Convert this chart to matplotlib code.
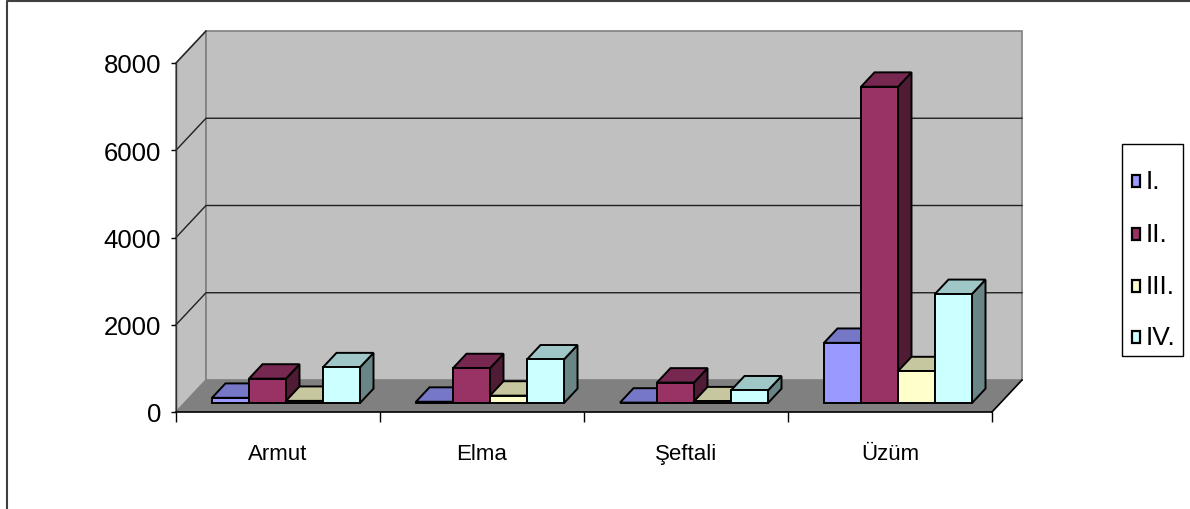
import matplotlib
matplotlib.use("Agg")
import matplotlib.pyplot as plt
from matplotlib.patches import Polygon, Rectangle
from matplotlib.lines import Line2D
import numpy as np

plt.rcParams['font.family'] = ['Liberation Sans Narrow', 'Liberation Sans', 'DejaVu Sans']

# ---- data ----
categories = ["Armut", "Elma", "Şeftali", "Üzüm"]
series_names = ["I.", "II.", "III.", "IV."]
s_I = [120, 30, 10, 1380]
s_II = [560, 800, 470, 7250]
s_III = [50, 170, 40, 730]
s_IV = [820, 1000, 290, 2500]
yticks = [0, 2000, 4000, 6000, 8000]

series = [s_I, s_II, s_III, s_IV]
front_colors = ["#9999FF", "#993366", "#FFFFCC", "#CCFFFF"]

W, H = 1190, 510
fig = plt.figure(figsize=(W / 100, H / 100), dpi=100)

# front plane of the 3D box in pixels
x_left, x_right, y_zero, y_top = 176, 992, 413, 64
ax = fig.add_axes([x_left / W, (H - y_zero) / H, (x_right - x_left) / W, (y_zero - y_top) / H])
ax.set_xlim(0, 4)
ax.set_ylim(0, 8000)
ax.patch.set_visible(False)

px_x = (x_right - x_left) / 4.0
px_y = (y_zero - y_top) / 8000.0
DX = 30 / px_x          # depth offset (x, data units)
DY = 32 / px_y          # depth offset (y, data units)


def P(x, y, f):
    return (x + f * DX, y + f * DY)


ymax = 8000
wall = "#C0C0C0"
floor = "#808080"
# side wall
ax.add_patch(Polygon([P(0, 0, 0), P(0, 0, 1), P(0, ymax, 1), P(0, ymax, 0)],
                     closed=True, facecolor=wall, edgecolor="#808080", lw=1.2, clip_on=False, zorder=1))
# back wall
ax.add_patch(Polygon([P(0, 0, 1), P(4, 0, 1), P(4, ymax, 1), P(0, ymax, 1)],
                     closed=True, facecolor=wall, edgecolor="#808080", lw=1.2, clip_on=False, zorder=1))
# floor
ax.add_patch(Polygon([P(0, 0, 0), P(4, 0, 0), P(4, 0, 1), P(0, 0, 1)],
                     closed=True, facecolor=floor, edgecolor="none", clip_on=False, zorder=2))
ax.add_line(Line2D([P(4, 0, 0)[0], P(4, 0, 1)[0]], [P(4, 0, 0)[1], P(4, 0, 1)[1]],
                   color="black", lw=1.2, clip_on=False, zorder=2))
# gridlines
for v in yticks[1:-1]:
    a, b, c = P(0, v, 0), P(0, v, 1), P(4, v, 1)
    ax.add_line(Line2D([a[0], b[0], c[0]], [a[1], b[1], c[1]], color="#202020", lw=1.0,
                       clip_on=False, zorder=2))
a, b = P(0, ymax, 0), P(0, ymax, 1)
ax.add_line(Line2D([a[0], b[0]], [a[1], b[1]], color="#202020", lw=1.0, clip_on=False, zorder=2))

# bars
off = 36 / px_x
w = 37 / px_x
f0 = 0.28
f1 = f0 + 0.45


def shade(hexc, k):
    c = np.array(matplotlib.colors.to_rgb(hexc)) * k
    return tuple(c)


for c in range(len(categories)):
    for i, vals in enumerate(series):
        v = vals[c]
        x0 = c + off + i * w - f0 * DX
        fc = front_colors[i]
        side = [P(x0 + w, 0, f0), P(x0 + w, 0, f1), P(x0 + w, v, f1), P(x0 + w, v, f0)]
        top = [P(x0, v, f0), P(x0 + w, v, f0), P(x0 + w, v, f1), P(x0, v, f1)]
        front = [P(x0, 0, f0), P(x0 + w, 0, f0), P(x0 + w, v, f0), P(x0, v, f0)]
        z = 3 + c * 0.1 + i * 0.01
        ax.add_patch(Polygon(side, closed=True, facecolor=shade(fc, 0.52), edgecolor="black",
                             lw=1.4, joinstyle="miter", clip_on=False, zorder=z))
        ax.add_patch(Polygon(top, closed=True, facecolor=shade(fc, 0.78), edgecolor="black",
                             lw=1.4, joinstyle="miter", clip_on=False, zorder=z))
        ax.add_patch(Polygon(front, closed=True, facecolor=fc, edgecolor="black",
                             lw=1.4, joinstyle="miter", clip_on=False, zorder=z))

# axes styling
for s in ["top", "right"]:
    ax.spines[s].set_visible(False)
ax.spines["left"].set_color("#303030")
ax.spines["left"].set_linewidth(1.0)
ax.spines["bottom"].set_color("black")
ax.spines["bottom"].set_linewidth(1.2)
ax.spines["left"].set_zorder(2.5)
ax.spines["bottom"].set_zorder(2.5)

ax.set_yticks(yticks)
ax.set_yticklabels([str(v) for v in yticks], fontsize=18.5)
ax.tick_params(axis="y", direction="out", length=3.6, width=1, pad=7, colors="black")
ax.set_xticks([0, 1, 2, 3, 4])
ax.set_xticklabels([""] * 5)
ax.set_xticks([0.5, 1.5, 2.5, 3.5], minor=True)
ax.set_xticklabels(categories, minor=True, fontsize=16)
ax.tick_params(axis="x", which="major", direction="out", length=7, width=1)
ax.tick_params(axis="x", which="minor", length=0, pad=22)

# legend (drawn manually in figure pixels)
lx0, lx1, ly0, ly1 = 1122, 1183, 145, 357
fig.patches.append(Rectangle((lx0 / W, 1 - ly1 / H), (lx1 - lx0) / W, (ly1 - ly0) / H,
                             transform=fig.transFigure, facecolor="white", edgecolor="black",
                             lw=1.0, figure=fig))
row_y = [182, 235, 287, 338]
for name, fc, ry in zip(series_names, front_colors, row_y):
    fig.patches.append(Rectangle((1132 / W, 1 - (ry + 6) / H), 8 / W, 12 / H,
                                 transform=fig.transFigure, facecolor=fc, edgecolor="black",
                                 lw=1.6, figure=fig))
    fig.text(1146 / W, 1 - ry / H, name, fontsize=19, va="center", ha="left")

# chart border
fig.lines.append(Line2D([7 / W, 7 / W, 1.0], [0.0, 1 - 1.5 / H, 1 - 1.5 / H],
                        transform=fig.transFigure, color="#404040", lw=1.5))

fig.savefig("out.png", dpi=100, facecolor="white")
